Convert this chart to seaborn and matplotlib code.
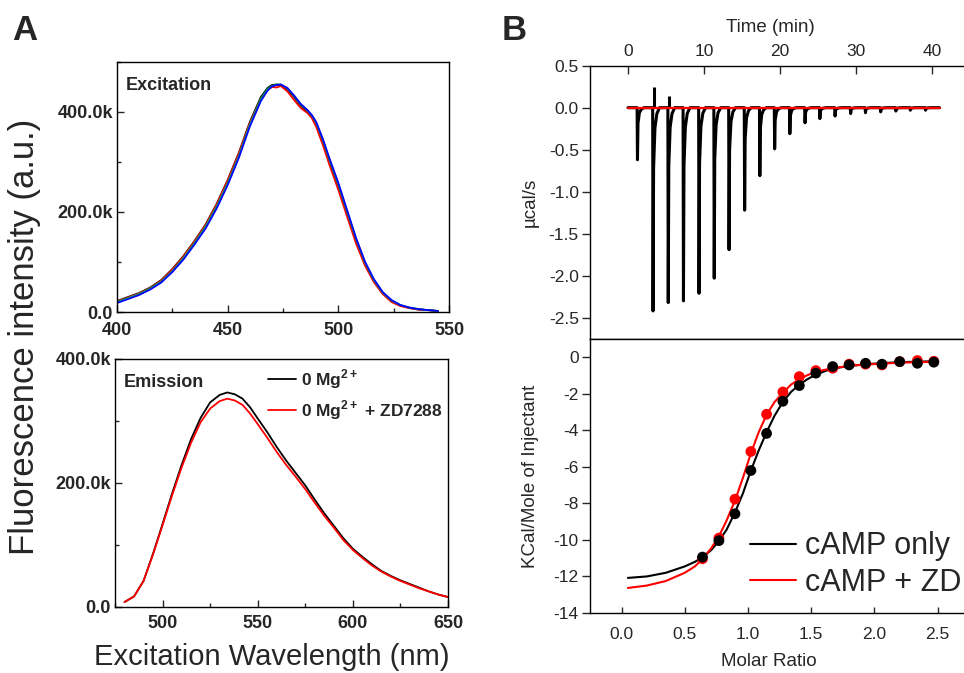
import numpy as np
import matplotlib
matplotlib.use("Agg")
import matplotlib.pyplot as plt
import seaborn as sns
from matplotlib.ticker import MultipleLocator

sns.set_style("ticks")
plt.rcParams['font.family'] = ['Liberation Sans', 'DejaVu Sans']
plt.rcParams['axes.unicode_minus'] = False
plt.rcParams['mathtext.fontset'] = 'custom'
plt.rcParams['mathtext.rm'] = 'Liberation Sans'
plt.rcParams['mathtext.bf'] = 'Liberation Sans:bold'

# --- Panel A, excitation spectra (intensity in k counts) ---
wl_ex = [400, 405, 410, 415, 420, 425, 430, 435, 440, 445, 450, 455, 460, 465, 468, 470, 472,
         474, 477, 480, 483, 486, 488, 490, 493, 496, 500, 504, 508, 512, 516, 520, 524, 528,
         532, 536, 540, 545]
ex_black = [22, 30, 38, 49, 64, 86, 112, 142, 175, 216, 264, 318, 380, 430, 448, 454, 455,
            454, 445, 430, 413, 401, 391, 375, 340, 300, 250, 196, 142, 96, 62, 38, 22, 13,
            8, 5, 4, 2]
ex_red = [21, 29, 37, 48, 63, 85, 111, 141, 174, 215, 263, 317, 378, 426, 444, 450, 449,
          452, 441, 424, 408, 398, 388, 370, 334, 294, 244, 190, 137, 93, 60, 36, 20, 12,
          8, 5, 4, 2]
ex_green = [20, 28, 36, 47, 61, 82, 108, 138, 171, 211, 258, 312, 375, 426, 446, 452, 455,
            455, 447, 432, 415, 403, 393, 378, 344, 304, 255, 200, 146, 99, 64, 39, 23, 14,
            9, 6, 4, 2]
ex_blue = [18, 26, 34, 45, 59, 80, 105, 135, 167, 207, 254, 308, 371, 422, 443, 451, 454,
           455, 448, 433, 416, 404, 394, 380, 346, 307, 258, 203, 148, 101, 66, 40, 24, 14,
           9, 6, 4, 2]

# --- Panel A, emission spectra ---
wl_em = [480, 485, 490, 495, 500, 505, 510, 515, 520, 525, 530, 534, 538, 542, 546, 550, 555,
         560, 565, 570, 575, 580, 585, 590, 595, 600, 605, 610, 615, 620, 625, 630, 635, 640,
         645, 650]
em_mg = [8, 17, 42, 86, 134, 183, 229, 271, 305, 330, 342, 346, 343, 336, 322, 304, 282,
         258, 236, 216, 196, 173, 151, 131, 111, 94, 81, 69, 58, 50, 43, 37, 31, 25, 20, 16]
em_mg_zd = [8, 17, 42, 85, 132, 180, 225, 265, 298, 320, 332, 336, 333, 326, 312, 295, 273,
            250, 229, 210, 190, 168, 147, 128, 108, 92, 79, 67, 57, 49, 42, 36, 30, 25, 20, 16]

# --- Panel B, raw ITC injections ---
inj_time = [1.2, 3.25, 5.25, 7.25, 9.3, 11.3, 13.25, 15.3, 17.3, 19.25, 21.25, 23.25, 25.2,
            27.2, 29.25, 31.2, 33.2, 35.2, 37.1, 39.1]
inj_depth = [-0.62, -2.42, -2.32, -2.30, -2.21, -2.03, -1.69, -1.22, -0.81, -0.49, -0.31,
             -0.18, -0.13, -0.10, -0.07, -0.06, -0.05, -0.04, -0.03, -0.03]
inj_pos = [0.0, 0.25, 0.14, 0.0, 0.0, 0.0, 0.0, 0.0, 0.0, 0.0, 0.0, 0.0, 0.0, 0.0, 0.0, 0.0,
           0.0, 0.0, 0.0, 0.0]
run_end = 41.0

# --- Panel B, integrated heats ---
ratio = [0.64, 0.77, 0.897, 1.023, 1.147, 1.276, 1.406, 1.537, 1.67, 1.80, 1.93, 2.06, 2.20,
         2.34, 2.47]
heat_camp = [-10.94, -10.04, -8.57, -6.2, -4.17, -2.41, -1.55, -0.87, -0.51, -0.42, -0.33,
             -0.38, -0.24, -0.33, -0.27]
heat_zd = [-11.03, -9.9, -7.77, -5.16, -3.12, -1.9, -1.06, -0.73, -0.6, -0.38, -0.38, -0.42,
           -0.24, -0.18, -0.22]
fit_x = [0.05, 0.2, 0.35, 0.5, 0.58, 0.64, 0.71, 0.77, 0.83, 0.897, 0.96, 1.023, 1.085, 1.147,
         1.21, 1.276, 1.34, 1.406, 1.47, 1.537, 1.6, 1.67, 1.8, 1.93, 2.06, 2.2, 2.34, 2.47]
fit_camp = [-12.08, -12.0, -11.8, -11.45, -11.2, -10.95, -10.55, -10.05, -9.45, -8.5, -7.45,
            -6.2, -5.1, -4.1, -3.2, -2.45, -1.9, -1.5, -1.2, -0.95, -0.78, -0.62, -0.48, -0.38,
            -0.32, -0.27, -0.24, -0.22]
fit_zd = [-12.63, -12.5, -12.25, -11.8, -11.45, -11.05, -10.45, -9.8, -8.95, -7.85, -6.6,
          -5.25, -4.1, -3.15, -2.45, -1.95, -1.5, -1.2, -0.98, -0.8, -0.7, -0.6, -0.47, -0.4,
          -0.35, -0.3, -0.27, -0.25]


def k_labels(vals):
    return ["0.0" if v == 0 else f"{v / 1000:.1f}k" for v in vals]


def itc_trace(times, depths, t_end):
    # baseline with a fast drop to each peak and a short return tail
    t, y = [0.0], [0.0]
    for ti, d in zip(times, depths):
        t += [ti, ti + 0.05, ti + 0.12, ti + 0.3, ti + 0.55, ti + 0.9]
        y += [0.0, d, d * 0.3, d * 0.1, d * 0.03, 0.0]
    t.append(t_end)
    y.append(0.0)
    return t, y


fig = plt.figure(figsize=(9.64, 6.73), dpi=100)
A_TICK = 13
B_TICK = 12.5
B_LAB = 13.5

# ---------------- A: excitation ----------------
ax1 = fig.add_axes([0.1214, 0.5364, 0.3444, 0.3715])
for vals, col in [(ex_black, 'black'), (ex_red, 'red'), (ex_green, '#00b050'), (ex_blue, '#0000ff')]:
    sns.lineplot(x=wl_ex, y=np.array(vals) * 1000, color=col, lw=1.3, ax=ax1)
ax1.set_xlim(400, 550)
ax1.set_ylim(0, 500000)
ax1.set_xticks([400, 450, 500, 550], ["400", "450", "500", "550"], fontweight='bold', fontsize=A_TICK)
ax1.set_yticks([0, 200000, 400000], k_labels([0, 200000, 400000]), fontweight='bold', fontsize=A_TICK)
ax1.xaxis.set_minor_locator(MultipleLocator(25))
ax1.yaxis.set_minor_locator(MultipleLocator(100000))
ax1.tick_params(which='both', direction='in', width=1)
ax1.tick_params(axis='x', pad=7)
ax1.tick_params(axis='y', pad=3)
ax1.tick_params(which='major', length=5)
ax1.tick_params(which='minor', length=3)
ax1.text(0.025, 0.94, "Excitation", transform=ax1.transAxes, fontsize=13, fontweight='bold',
         va='top', ha='left')

# ---------------- A: emission ----------------
ax2 = fig.add_axes([0.1193, 0.0981, 0.3454, 0.3685])
sns.lineplot(x=wl_em, y=np.array(em_mg) * 1000, color='black', lw=1.3, ax=ax2,
             label=r"0 Mg$^{\mathbf{2+}}$")
sns.lineplot(x=wl_em, y=np.array(em_mg_zd) * 1000, color='red', lw=1.3, ax=ax2,
             label=r"0 Mg$^{\mathbf{2+}}$ + ZD7288")
ax2.set_xlim(475, 650)
ax2.set_ylim(0, 400000)
ax2.set_xticks([500, 550, 600, 650], ["500", "550", "600", "650"], fontweight='bold', fontsize=A_TICK)
ax2.set_yticks([0, 200000, 400000], k_labels([0, 200000, 400000]), fontweight='bold', fontsize=A_TICK)
ax2.xaxis.set_minor_locator(MultipleLocator(25))
ax2.yaxis.set_minor_locator(MultipleLocator(100000))
ax2.tick_params(which='both', direction='in', width=1)
ax2.tick_params(axis='x', pad=6)
ax2.tick_params(axis='y', pad=3)
ax2.tick_params(which='major', length=5)
ax2.tick_params(which='minor', length=3)
ax2.text(0.025, 0.94, "Emission", transform=ax2.transAxes, fontsize=13, fontweight='bold',
         va='top', ha='left')
ax2.legend(loc='center left', bbox_to_anchor=(0.44, 0.857), frameon=False,
           prop={'weight': 'bold', 'size': 12.5}, handlelength=1.6, handletextpad=0.3,
           labelspacing=0.45, borderaxespad=0)
ax2.set_xlabel("Excitation Wavelength (nm)", fontsize=21)
ax2.xaxis.set_label_coords(0.471, -0.145)

fig.text(0.025, 0.5, "Fluorescence intensity (a.u.)", rotation=90, fontsize=25,
         ha='center', va='center')

# ---------------- B: raw ITC ----------------
ax3 = fig.add_axes([0.612, 0.4963, 0.3942, 0.4061])
tt, yy = itc_trace(inj_time, inj_depth, run_end)
sns.lineplot(x=tt, y=yy, color='black', lw=2.2, sort=False, estimator=None, ax=ax3)
ax3.vlines([t + 0.15 for t in inj_time], 0, inj_pos, color='black', lw=2.2)
sns.lineplot(x=[0.0, run_end], y=[0.0, 0.0], color='red', lw=1.6, ax=ax3)
ax3.set_xlim(-5, 45)
ax3.set_ylim(-2.754, 0.5)
ax3.xaxis.tick_top()
ax3.xaxis.set_label_position('top')
ax3.set_xticks([0, 10, 20, 30, 40])
ax3.set_yticks([0.5, 0.0, -0.5, -1.0, -1.5, -2.0, -2.5])
ax3.set_yticklabels(["0.5", "0.0", "-0.5", "-1.0", "-1.5", "-2.0", "-2.5"])
ax3.tick_params(axis='x', direction='in', length=6, width=1, labelsize=B_TICK, pad=5)
ax3.tick_params(axis='y', direction='out', length=6, width=1, labelsize=B_TICK, pad=2)
ax3.set_xlabel("Time (min)", fontsize=B_LAB)
ax3.xaxis.set_label_coords(0.474, 1.125)
ax3.set_ylabel("\u00b5cal/s", fontsize=B_LAB)
ax3.yaxis.set_label_coords(-0.135, 0.5)
ax3.spines['right'].set_visible(False)

# ---------------- B: integrated heats ----------------
ax4 = fig.add_axes([0.612, 0.0892, 0.3942, 0.4071])
sns.lineplot(x=fit_x, y=fit_camp, color='black', lw=1.5, ax=ax4, label="cAMP only")
sns.lineplot(x=fit_x, y=fit_zd, color='red', lw=1.5, ax=ax4, label="cAMP + ZD")
sns.scatterplot(x=ratio, y=heat_zd, color='red', s=60, edgecolor='none', ax=ax4, zorder=3)
sns.scatterplot(x=ratio, y=heat_camp, color='black', s=60, edgecolor='none', ax=ax4, zorder=4)
ax4.set_xlim(-0.25, 2.756)
ax4.set_ylim(-14, 1.0)
ax4.set_xticks([0.0, 0.5, 1.0, 1.5, 2.0, 2.5])
ax4.set_xticklabels(["0.0", "0.5", "1.0", "1.5", "2.0", "2.5"])
ax4.set_yticks([0, -2, -4, -6, -8, -10, -12, -14])
ax4.set_yticklabels(["0", "-2", "-4", "-6", "-8", "-10", "-12", "-14"])
ax4.tick_params(axis='x', direction='in', length=4, width=1, labelsize=B_TICK, pad=10)
ax4.tick_params(axis='y', direction='out', length=6, width=1, labelsize=B_TICK, pad=2)
ax4.set_xlabel("Molar Ratio", fontsize=B_LAB)
ax4.xaxis.set_label_coords(0.471, -0.145)
ax4.set_ylabel("KCal/Mole of Injectant", fontsize=B_LAB)
ax4.yaxis.set_label_coords(-0.135, 0.5)
ax4.spines['right'].set_visible(False)
ax4.legend(loc='center left', bbox_to_anchor=(0.39, 0.177), frameon=False, fontsize=22,
           handlelength=1.5, handletextpad=0.3, labelspacing=0.2, borderaxespad=0)

for ax in (ax1, ax2, ax3, ax4):
    for sp in ax.spines.values():
        sp.set_linewidth(1.0)
        sp.set_color('black')
    if ax is not ax2 and ax is not ax4:
        leg = ax.get_legend()
        if leg:
            leg.remove()

fig.text(0.026, 0.955, "A", fontsize=25, fontweight='bold', ha='center', va='center')
fig.text(0.533, 0.955, "B", fontsize=25, fontweight='bold', ha='center', va='center')

fig.savefig("out.png", dpi=100)
